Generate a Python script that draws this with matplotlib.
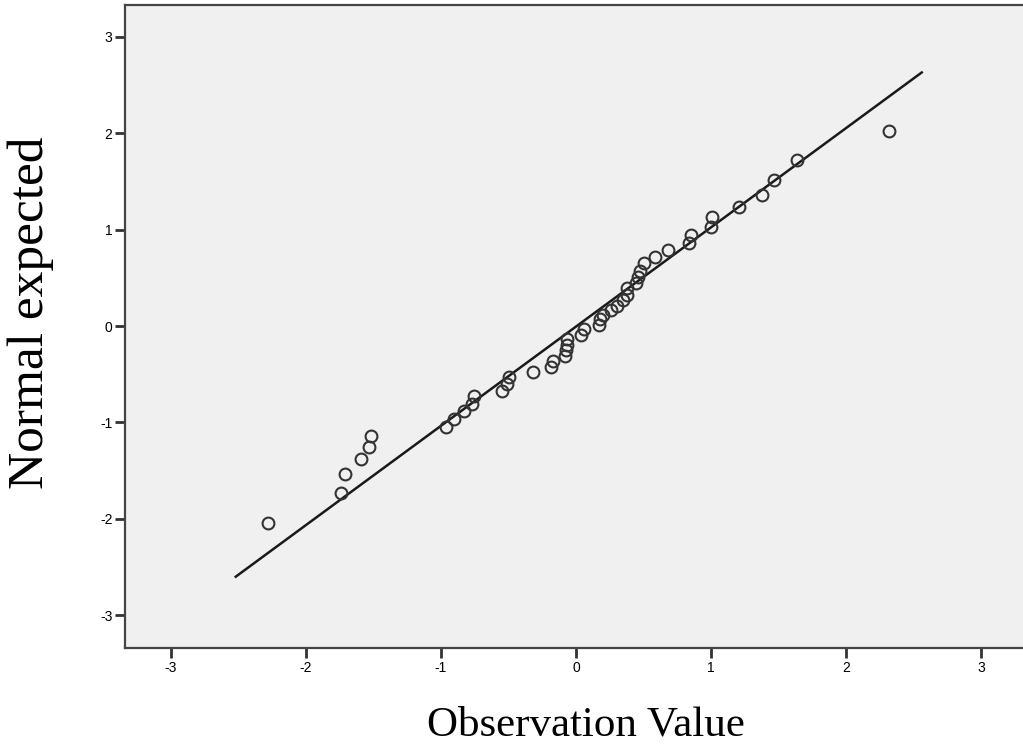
import numpy as np
import matplotlib.pyplot as plt

plt.rcParams['axes.unicode_minus'] = False  # guion simple en las etiquetas

obs = [-2.28, -1.74, -1.71, -1.59, -1.53, -1.52, -0.965, -0.90, -0.827, -0.768,
       -0.758, -0.546, -0.509, -0.494, -0.321, -0.185, -0.173, -0.084, -0.076, -0.069,
       -0.064, 0.035, 0.059, 0.173, 0.178, 0.198, 0.259, 0.301, 0.350, 0.375,
       0.380, 0.444, 0.462, 0.474, 0.504, 0.588, 0.679, 0.835, 0.850, 1.0,
       1.007, 1.207, 1.375, 1.467, 1.64, 2.32]
expected = [-2.04, -1.73, -1.53, -1.38, -1.26, -1.14, -1.05, -0.966, -0.883, -0.813,
            -0.727, -0.672, -0.602, -0.533, -0.481, -0.422, -0.360, -0.308, -0.249, -0.197,
            -0.138, -0.093, -0.031, 0.010, 0.069, 0.114, 0.166, 0.208, 0.270, 0.322,
            0.398, 0.450, 0.512, 0.575, 0.651, 0.717, 0.789, 0.858, 0.945, 1.03,
            1.13, 1.236, 1.36, 1.516, 1.72, 2.02]

# Linea de referencia (extremos)
line_x = [-2.52, 2.56]
line_y = [-2.60, 2.63]

ticks = [-3, -2, -1, 0, 1, 2, 3]

fig = plt.figure(figsize=(10.23, 7.44), dpi=100)
ax = fig.add_axes([0.1222, 0.129, 0.8778, 0.8643])
ax.set_facecolor('#f0f0f0')

ax.plot(line_x, line_y, color='#1a1a1a', lw=1.8, zorder=2)
ax.plot(obs, expected, 'o', mfc='none', mec='#333333', mew=1.5, ms=8.5, zorder=3)

ax.set_xlim(-3.34, 3.31)
ax.set_ylim(-3.34, 3.33)
ax.set_xticks(ticks)
ax.set_yticks(ticks)
ax.tick_params(labelsize=10, length=7, width=2, color='#333333', direction='out', pad=2)
for lab in ax.get_xticklabels() + ax.get_yticklabels():
    lab.set_family('Liberation Sans')

for s in ['left', 'bottom', 'top']:
    ax.spines[s].set_color('#444444')
    ax.spines[s].set_linewidth(1.6)
ax.spines['right'].set_visible(False)

# Titulos de los ejes
fig.text(0.573, 0.012, 'Observation Value', family='Liberation Serif', fontsize=31,
         ha='center', va='baseline')
fig.text(0.03, 0.58, 'Normal expected', family='Liberation Serif', fontsize=37,
         ha='center', va='center', rotation=90)

fig.savefig('out.png', dpi=100)
